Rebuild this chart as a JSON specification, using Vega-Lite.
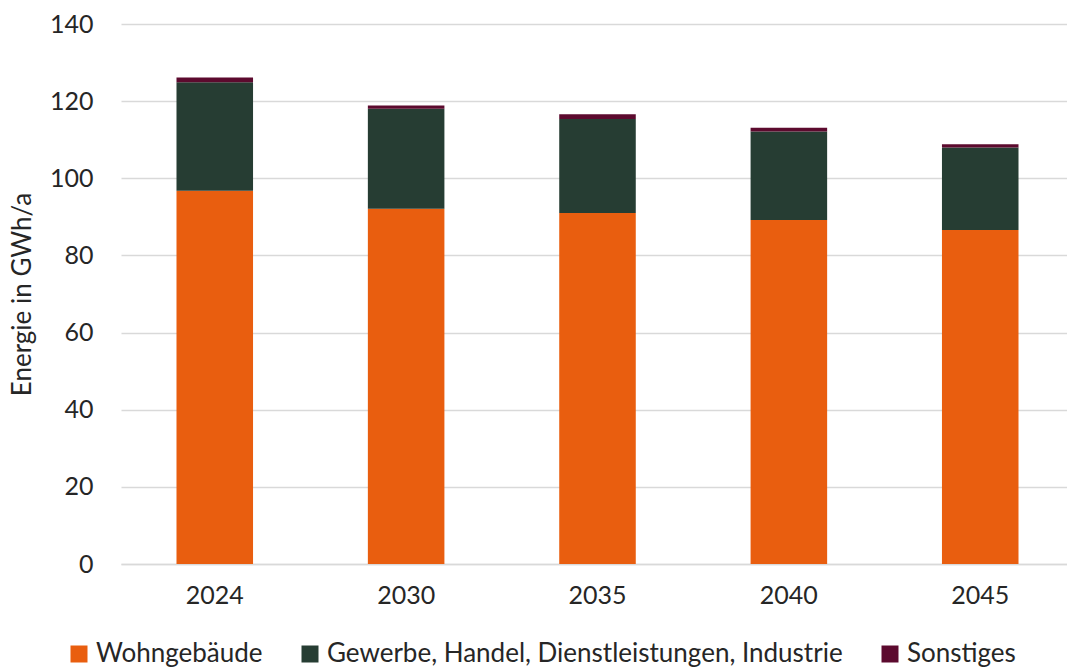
{
  "$schema": "https://vega.github.io/schema/vega-lite/v6.json",
  "width": 953,
  "height": 540,
  "autosize": {"type": "none"},
  "padding": {"left": 121, "top": 24, "right": 0, "bottom": 105},
  "background": "white",
  "config": {
    "font": "Lato",
    "view": {"stroke": null},
    "axis": {"labelFont": "Lato", "titleFont": "Lato", "labelColor": "#262626", "titleColor": "#262626"},
    "legend": {"labelFont": "Lato"}
  },
  "data": {
    "values": [
      {"Jahr": "2024", "Sektor": "Wohngebäude", "Rang": 1, "Energie": 96.8},
      {"Jahr": "2024", "Sektor": "Gewerbe, Handel, Dienstleistungen, Industrie", "Rang": 2, "Energie": 28.1},
      {"Jahr": "2024", "Sektor": "Sonstiges", "Rang": 3, "Energie": 1.2},
      {"Jahr": "2030", "Sektor": "Wohngebäude", "Rang": 1, "Energie": 92.1},
      {"Jahr": "2030", "Sektor": "Gewerbe, Handel, Dienstleistungen, Industrie", "Rang": 2, "Energie": 25.9},
      {"Jahr": "2030", "Sektor": "Sonstiges", "Rang": 3, "Energie": 0.9},
      {"Jahr": "2035", "Sektor": "Wohngebäude", "Rang": 1, "Energie": 91.0},
      {"Jahr": "2035", "Sektor": "Gewerbe, Handel, Dienstleistungen, Industrie", "Rang": 2, "Energie": 24.4},
      {"Jahr": "2035", "Sektor": "Sonstiges", "Rang": 3, "Energie": 1.2},
      {"Jahr": "2040", "Sektor": "Wohngebäude", "Rang": 1, "Energie": 89.2},
      {"Jahr": "2040", "Sektor": "Gewerbe, Handel, Dienstleistungen, Industrie", "Rang": 2, "Energie": 22.9},
      {"Jahr": "2040", "Sektor": "Sonstiges", "Rang": 3, "Energie": 1.0},
      {"Jahr": "2045", "Sektor": "Wohngebäude", "Rang": 1, "Energie": 86.6},
      {"Jahr": "2045", "Sektor": "Gewerbe, Handel, Dienstleistungen, Industrie", "Rang": 2, "Energie": 21.4},
      {"Jahr": "2045", "Sektor": "Sonstiges", "Rang": 3, "Energie": 0.8}
    ]
  },
  "mark": {"type": "bar"},
  "encoding": {
    "x": {
      "field": "Jahr", "type": "ordinal",
      "scale": {"paddingInner": 0.6, "paddingOuter": 0.29},
      "axis": {"title": null, "labelAngle": 0, "labelFontSize": 25, "labelPadding": 19, "ticks": false, "domain": true, "domainColor": "#d9d9d9", "domainWidth": 1.5}
    },
    "y": {
      "field": "Energie", "type": "quantitative", "stack": "zero",
      "scale": {"domain": [0, 140]},
      "axis": {"title": "Energie in GWh/a", "titleFontSize": 26, "titleFontWeight": "normal", "titlePadding": 14, "labelFontSize": 25, "labelPadding": 28, "values": [0, 20, 40, 60, 80, 100, 120, 140], "ticks": false, "domain": false, "gridColor": "#d9d9d9", "gridWidth": 1.5}
    },
    "color": {
      "field": "Sektor", "type": "nominal",
      "sort": ["Wohngebäude", "Gewerbe, Handel, Dienstleistungen, Industrie", "Sonstiges"],
      "scale": {"domain": ["Wohngebäude", "Gewerbe, Handel, Dienstleistungen, Industrie", "Sonstiges"], "range": ["#E95E0F", "#263D33", "#5C0A2E"]},
      "legend": {"title": null, "orient": "none", "legendX": -55, "legendY": 617, "direction": "horizontal", "symbolType": "square", "symbolSize": 289, "symbolStrokeWidth": 0, "labelOffset": 4, "labelFontSize": 26, "labelColor": "#262626", "columnPadding": 34, "labelLimit": 700}
    },
    "order": {"field": "Rang", "type": "quantitative", "sort": "ascending"}
  }
}
